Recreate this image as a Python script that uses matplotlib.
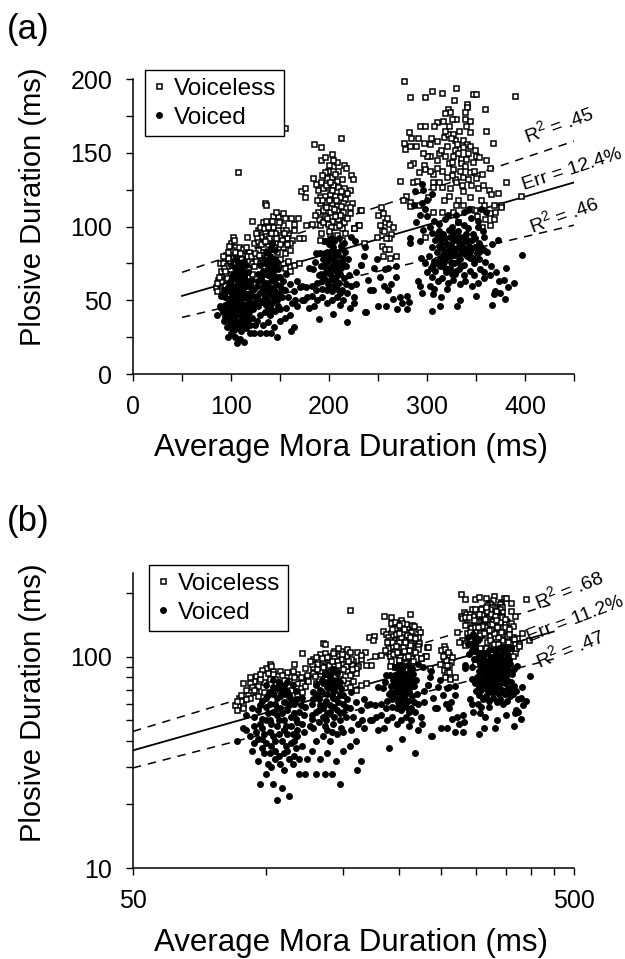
import numpy as np
import matplotlib
matplotlib.use("Agg")
import matplotlib.pyplot as plt
from matplotlib.ticker import FixedLocator, NullFormatter, FixedFormatter
from matplotlib.lines import Line2D

plt.rcParams['font.family'] = ['Liberation Sans', 'DejaVu Sans']
plt.rcParams['mathtext.fontset'] = 'custom'
plt.rcParams['mathtext.rm'] = 'Liberation Sans'
plt.rcParams['mathtext.default'] = 'rm'

voiceless_c1 = [(100,89),(104,86),(108,86),(95,81),(101,84),(118,83),(102,93),(116,93),(89,75),(94,77),(99,76),(92,75),(90,70),(96,73),(107,75),(113,77),(116,80),(121,75),(123,73),(114,70),(106,70),(99,68),(91,66),(87,64),(89,60),(85,59),(89,57),(113,63),(118,66),(119,62),(121,68),(104,83),(111,81),(102,79),(107.5,137),(93,72),(88,62),(86,56),(97,79),(110,78),(105,79),(92,64),(95,68),(117,71),(124,79),(121,104),(98,87),(103,91),(112,85),(94,70),(90,63),(86,62),(88,66),(97,83),(109,82),(115,86),(120,80),(92,80),(96,65)]
voiceless_c2 = [(128,98),(133,103),(140,101),(131,93),(123,89),(128,90),(136,95),(143,100),(148,98),(153,101),(158,96),(164,98),(157,92),(162,91),(150,93),(143,93),(138,90),(147,89),(153,86),(160,89),(133,86),(128,84),(140,85),(147,83),(155,82),(133,81),(125,77),(130,75),(153,75),(158,77),(155,72),(148,107),(143,107),(135,116),(136,115),(146,110),(153,109),(155,106),(161,106),(168,106),(164,102),(136,104),(173,92),(169,92),(164,74),(169,75),(160,70),(155,167),(130,100),(135,97),(139,92),(145,96),(127,93),(124,82),(132,79),(137,80),(142,88),(150,78),(136,83),(126,96),(134,99),(141,96),(149,103),(156,98),(160,84),(152,91),(146,92),(138,100),(131,88),(144,86),(150,88),(157,88),(129,81),(135,90),(142,104),(154,96)]
voiceless_c3 = [(212,160),(185,156),(192,154),(203,149),(192,145),(196,147),(184,133),(222,135),(224,132),(171,124),(176,126),(175,120),(232,111),(177,101),(183,102),(230,101),(225,99),(187,129),(192,130),(198,133),(203,134),(208,131),(213,132),(199,138),(204,141),(209,138),(196,137),(208,144),(215,142),(217,140),(204,145),(189,125),(194,126),(199,127),(204,128),(209,127),(215,126),(221,125),(191,120),(196,121),(201,122),(206,121),(211,120),(216,119),(223,116),(191,116),(197,117),(203,116),(208,114),(214,116),(221,113),(189,110),(194,111),(201,110),(208,111),(214,110),(221,109),(190,105),(196,107),(203,104),(209,105),(215,103),(191,101),(199,102),(206,100),(213,99),(192,96),(201,94),(208,94),(216,96),(191,91),(196,90),(204,91),(213,91),(197,128),(200,118),(205,112),(193,118),(211,108),(202,100),(200,142),(206,136),(212,124),(203,125),(197,113),(206,107),(212,114),(218,106),(194,103),(200,97),(210,101),(193,135),(188,118),(186,108),(218,123),(201,130),(207,118),(198,106)]
voiceless_c4 = [(253,113),(250,108),(255,109),(257,103),(261,102),(265,100),(231,101),(225,99),(254,98),(249,93),(263,95),(261,92),(254,87),(257,85),(261,85),(255,80),(262,79),(268,80),(258,92),(236,89),(233,111),(256,97),(259,106),(252,101)]
voiceless_c5 = [(277,199),(283,188),(298,188),(305,192),(315,191),(330,194),(328,186),(347,190),(350,190),(390,189),(359,180),(341,183),(341,181),(339,178),(321,180),(323,178),(318,177),(339,173),(344,172),(360,165),(367,157),(310,171),(330,173),(326,173),(293,168),(298,168),(307,168),(340,168),(344,164),(282,164),(284,160),(277,157),(278,153),(283,155),(291,160),(289,155),(297,157),(303,156),(310,158),(317,161),(321,163),(327,163),(329,159),(337,159),(341,156),(320,155),(329,152),(337,154),(342,150),(350,148),(353,147),(360,145),(364,140),(347,144),(335,146),(335,143),(318,148),(310,145),(303,148),(297,142),(286,143),(283,142),(292,137),(298,139),(306,136),(315,138),(327,139),(339,141),(344,137),(350,133),(272,131),(286,130),(290,131),(306,130),(306,127),(315,127),(323,126),(329,132),(337,134),(336,128),(345,128),(352,126),(363,125),(381,130),(372,123),(365,122),(396,121),(344,120),(337,124),(317,118),(332,118),(322,121),(279,121),(275,118),(283,117),(283,114),(292,115),(301,120),(306,110),(315,110),(327,110),(330,115),(337,115),(349,111),(358,115),(368,115),(376,115),(364,109),(351,107),(359,105),(368,105),(356,100),(364,101),(332,103),(298,93),(312,150),(322,168),(327,148),(333,165),(318,165),(310,140),(322,143),(330,130),(325,135),(300,148),(340,146),(348,138),(355,118),(345,112),(369,110),(375,113),(316,172),(324,160),(331,156),(314,152),(326,144),(332,150),(304,160),(296,150),(344,155),(349,152),(356,136),(320,134),(312,130),(342,132),(357,128),(334,138),(303,138)]

voiced_c1 = [(86,40),(89,46),(97,25),(106,21),(113,22),(100,28),(104,25),(109,24),(96,32),(101,31),(105,33),(110,29),(115,31),(119,28),(123,28),(93,36),(98,37),(102,35),(107,34),(112,36),(117,37),(92,42),(96,41),(100,39),(104,42),(109,40),(112,43),(116,40),(121,38),(127,36),(90,45),(94,47),(98,46),(102,44),(106,47),(110,45),(114,47),(118,45),(122,44),(126,47),(94,52),(98,51),(102,50),(106,53),(110,50),(114,52),(118,49),(122,53),(127,51),(96,56),(100,58),(104,55),(108,57),(112,56),(116,54),(120,59),(98,62),(102,60),(106,64),(110,61),(114,63),(104,67),(108,65),(112,69),(106,71),(102,68),(110,73),(100,74),(107,76),(115,74),(93,57),(90,53),(118,42),(124,33),(130,28),(99,43),(103,48),(107,43),(111,38),(115,43),(101,54),(105,60),(109,54),(113,59),(97,48),(103,38),(108,31),(113,33),(95,44),(117,51),(121,48),(100,64),(104,72),(110,67),(119,55),(105,40),(99,35),(116,34),(107,50),(103,30),(111,47),(123,58),(118,63),(101,66),(106,57),(109,70),(113,66),(116,60),(121,64),(97,59),(104,78),(112,76),(117,69),(100,50),(105,36),(110,35),(114,39),(119,33),(98,41),(94,39)]
voiced_c2 = [(136,28),(141,28),(147,25),(161,29),(164,32),(160,40),(167,46),(133,33),(138,35),(144,32),(150,36),(155,38),(130,40),(135,42),(140,40),(145,43),(150,44),(156,45),(162,48),(128,46),(132,49),(137,50),(142,48),(147,50),(152,52),(158,52),(165,50),(170,59),(177,59),(167,63),(160,61),(150,60),(145,56),(140,55),(135,57),(130,55),(127,60),(132,63),(137,62),(142,64),(147,66),(153,63),(156,68),(128,68),(133,70),(138,72),(143,74),(147,76),(134,78),(140,80),(145,84),(142,88),(137,75),(130,74),(152,58),(164,56),(172,50),(138,45),(143,52),(148,46),(135,52),(140,59),(146,61),(133,59),(138,67),(143,69),(148,71),(136,60),(141,66),(131,66),(145,78),(139,76),(150,55),(155,57),(127,53),(141,44),(134,68),(140,71),(144,63),(137,83),(141,85),(146,73),(132,56),(138,54),(143,58),(147,54),(136,47),(128,63),(135,75),(142,78),(150,66)]
voiced_c3 = [(180,45),(185,46),(190,37),(204,41),(211,47),(221,45),(218,35),(226,48),(237,42),(174,50),(172,60),(178,52),(183,53),(188,50),(193,52),(198,48),(203,50),(208,52),(214,50),(184,71),(187,82),(191,82),(183,60),(188,62),(193,58),(198,57),(203,56),(208,58),(213,57),(218,55),(222,60),(228,61),(190,67),(195,65),(200,63),(205,64),(210,62),(215,65),(220,67),(192,73),(197,72),(202,71),(207,70),(212,72),(217,73),(194,78),(199,77),(204,78),(209,76),(214,79),(219,78),(198,83),(203,84),(208,83),(213,85),(205,90),(210,92),(215,89),(222,93),(227,90),(237,86),(233,74),(200,88),(196,90),(225,52),(180,72),(186,76),(206,75),(201,68),(196,74),(211,68),(205,60),(199,61),(209,81),(203,73),(217,61),(193,63),(212,87),(207,66),(200,80),(204,86),(197,69),(208,74),(203,66),(213,76),(206,81),(199,58),(211,55),(196,82),(216,83),(192,68),(202,92),(187,57)]
voiced_c4 = [(242,57),(245,57),(250,46),(258,46),(265,51),(269,44),(272,52),(274,48),(280,44),(280,53),(282,49),(260,57),(263,61),(268,66),(268,73),(260,72),(257,71),(246,72),(249,78),(233,74),(236,80),(238,42),(228,69),(240,64),(252,66),(256,60)]
voiced_c5 = [(397,81),(389,62),(381,72),(383,59),(380,51),(366,47),(368,54),(369,56),(374,55),(373,63),(379,64),(350,53),(334,50),(331,46),(314,52),(313,46),(305,43),(320,58),(306,54),(295,55),(291,63),(293,60),(303,60),(307,58),(294,79),(283,92),(283,89),(300,69),(305,66),(311,63),(315,65),(321,62),(327,64),(334,61),(339,63),(346,60),(352,62),(358,65),(364,67),(370,69),(298,75),(304,72),(308,70),(313,73),(319,69),(323,72),(329,68),(333,71),(338,67),(344,70),(348,67),(354,71),(358,69),(365,73),(302,80),(307,77),(313,79),(317,76),(323,80),(328,75),(334,78),(338,74),(344,79),(348,75),(353,78),(359,76),(305,86),(310,83),(316,85),(320,82),(326,86),(331,81),(335,84),(341,80),(345,85),(351,82),(355,86),(361,83),(308,91),(314,89),(318,92),(324,88),(328,91),(333,87),(339,90),(343,87),(349,92),(353,89),(358,93),(366,88),(372,91),(312,97),(316,95),(322,98),(327,94),(332,97),(337,93),(342,99),(347,95),(352,100),(357,97),(293,90),(296,98),(289,103),(293,108),(298,112),(303,100),(307,104),(312,102),(318,105),(325,100),(332,103),(338,101),(345,106),(352,104),(360,110),(300,118),(305,122),(295,116),(288,124),(305,96),(330,108),(338,110),(355,112),(296,125),(295,129),(287,115),(300,107),(327,84),(331,76),(336,88),(322,84),(318,78),(340,95),(326,97),(330,70),(344,83),(314,92),(349,86),(318,72),(333,93),(306,74),(337,82),(324,76),(358,84),(320,88),(328,81),(335,73),(341,91),(329,85),(323,93),(316,81),(311,76),(347,79),(353,83),(312,87),(339,85),(325,68),(332,90),(346,91),(310,95),(321,108),(343,112)]

line_x = [50, 450]
a_upper = [69, 158]
a_fit = [53, 130]
a_lower = [38.4, 101]
b_upper = [44.4, 179]
b_fit = [36.1, 132]
b_lower = [29.8, 98]

xlabel = 'Average Mora Duration (ms)'
ylabel = 'Plosive Duration (ms)'
series_names = ['Voiceless', 'Voiced']

unvoiced = np.array(voiceless_c1 + voiceless_c2 + voiceless_c3 + voiceless_c4 + voiceless_c5)
voiced = np.array(voiced_c1 + voiced_c2 + voiced_c3 + voiced_c4 + voiced_c5)

W, H = 625, 959
fig = plt.figure(figsize=(W/100, H/100), dpi=100)

def make_axes(top, bottom):
    return fig.add_axes([133/W, 1-bottom/H, (574-133)/W, (bottom-top)/H])

ax1 = make_axes(79.3, 374)
ax2 = make_axes(573, 868)

SQ = dict(marker='s', ms=3.6, mfc='white', mec='black', mew=1.1)
CI = dict(marker='o', ms=5.0, mfc='black', mec='black', mew=0)

def draw(ax, up, fit, lo, label_y, xlabel_y):
    ax.plot(line_x, up, color='k', lw=1.1, dashes=(5.5, 4.5), zorder=1)
    ax.plot(line_x, fit, color='k', lw=1.3, zorder=1)
    ax.plot(line_x, lo, color='k', lw=1.1, dashes=(5.5, 4.5), zorder=1)
    ax.plot(unvoiced[:,0], unvoiced[:,1], ls='none', zorder=2, clip_on=False, **SQ)
    ax.plot(voiced[:,0], voiced[:,1], ls='none', zorder=3, clip_on=False, **CI)
    for s in ['top', 'right']:
        ax.spines[s].set_visible(False)
    for s in ['left', 'bottom']:
        ax.spines[s].set_linewidth(1.1)
    ax.tick_params(which='both', direction='out', length=5, width=1.0, labelsize=18)
    ax.tick_params(axis='x', which='both', pad=10)
    ax.tick_params(axis='y', which='both', pad=10)
    ax.set_xlabel(xlabel, fontsize=22.5)
    ax.set_ylabel(ylabel, fontsize=21)
    ax.xaxis.set_label_coords((351-133)/441, xlabel_y, transform=ax.transAxes)
    ax.yaxis.set_label_coords((33-133)/441, label_y, transform=ax.transAxes)
    ax.xaxis.label.set_va('center')
    ax.yaxis.label.set_va('center')

draw(ax1, a_upper, a_fit, a_lower, (374-207)/294.7, (374-448)/294.7)
draw(ax2, b_upper, b_fit, b_lower, (868-703)/295, (868-943)/295)

ax1.set_xlim(0, 450)
ax1.set_ylim(0, 200)
ax1.xaxis.set_major_locator(FixedLocator([0, 100, 200, 300, 400]))
ax1.xaxis.set_minor_locator(FixedLocator([50, 150, 250, 350, 450]))
ax1.yaxis.set_major_locator(FixedLocator([0, 50, 100, 150, 200]))
ax1.yaxis.set_minor_locator(FixedLocator([25, 75, 125, 175]))

ax2.set_xscale('log')
ax2.set_yscale('log')
ax2.set_xlim(50, 500)
ax2.set_ylim(10, 250)
ax2.xaxis.set_major_locator(FixedLocator([50, 500]))
ax2.xaxis.set_major_formatter(FixedFormatter(['50', '500']))
ax2.xaxis.set_minor_locator(FixedLocator([100, 150, 200, 250, 300, 350, 400, 450]))
ax2.xaxis.set_minor_formatter(NullFormatter())
ax2.yaxis.set_major_locator(FixedLocator([10, 100]))
ax2.yaxis.set_major_formatter(FixedFormatter(['10', '100']))
ax2.yaxis.set_minor_locator(FixedLocator([20, 30, 40, 50, 60, 70, 80, 90, 200]))
ax2.yaxis.set_minor_formatter(NullFormatter())

handles = [Line2D([], [], ls='none', **SQ), Line2D([], [], ls='none', **CI)]

def legend(ax, x0, y0):
    leg = ax.legend(handles, series_names, loc='upper left',
                    bbox_to_anchor=(x0/W, 1-y0/H), bbox_transform=fig.transFigure,
                    fontsize=17.5, frameon=True, fancybox=False, framealpha=1,
                    edgecolor='black', handlelength=0.55, handletextpad=0.3,
                    borderpad=0.32, borderaxespad=0, labelspacing=0.28)
    leg.get_frame().set_linewidth(1.0)
    leg.set_zorder(5)

legend(ax1, 145, 70)
legend(ax2, 149, 565)

def note(x, y, s, rot=18):
    fig.text(x/W, 1-y/H, s, fontsize=14, rotation=rot, ha='center', va='center',
             rotation_mode='anchor')

note(559, 124, 'R$^2$ = .45', 20)
note(572, 170, 'Err = 12.4%', 18)
note(564, 214, 'R$^2$ = .46', 20)
note(569, 589, 'R$^2$ = .68', 22)
note(575, 619, 'Err = 11.2%', 21)
note(570, 648, 'R$^2$ = .47', 22)

fig.text(7/W, 1-30/H, '(a)', fontsize=25, ha='left', va='center')
fig.text(7/W, 1-521/H, '(b)', fontsize=25, ha='left', va='center')

fig.savefig('out.png', dpi=100)
